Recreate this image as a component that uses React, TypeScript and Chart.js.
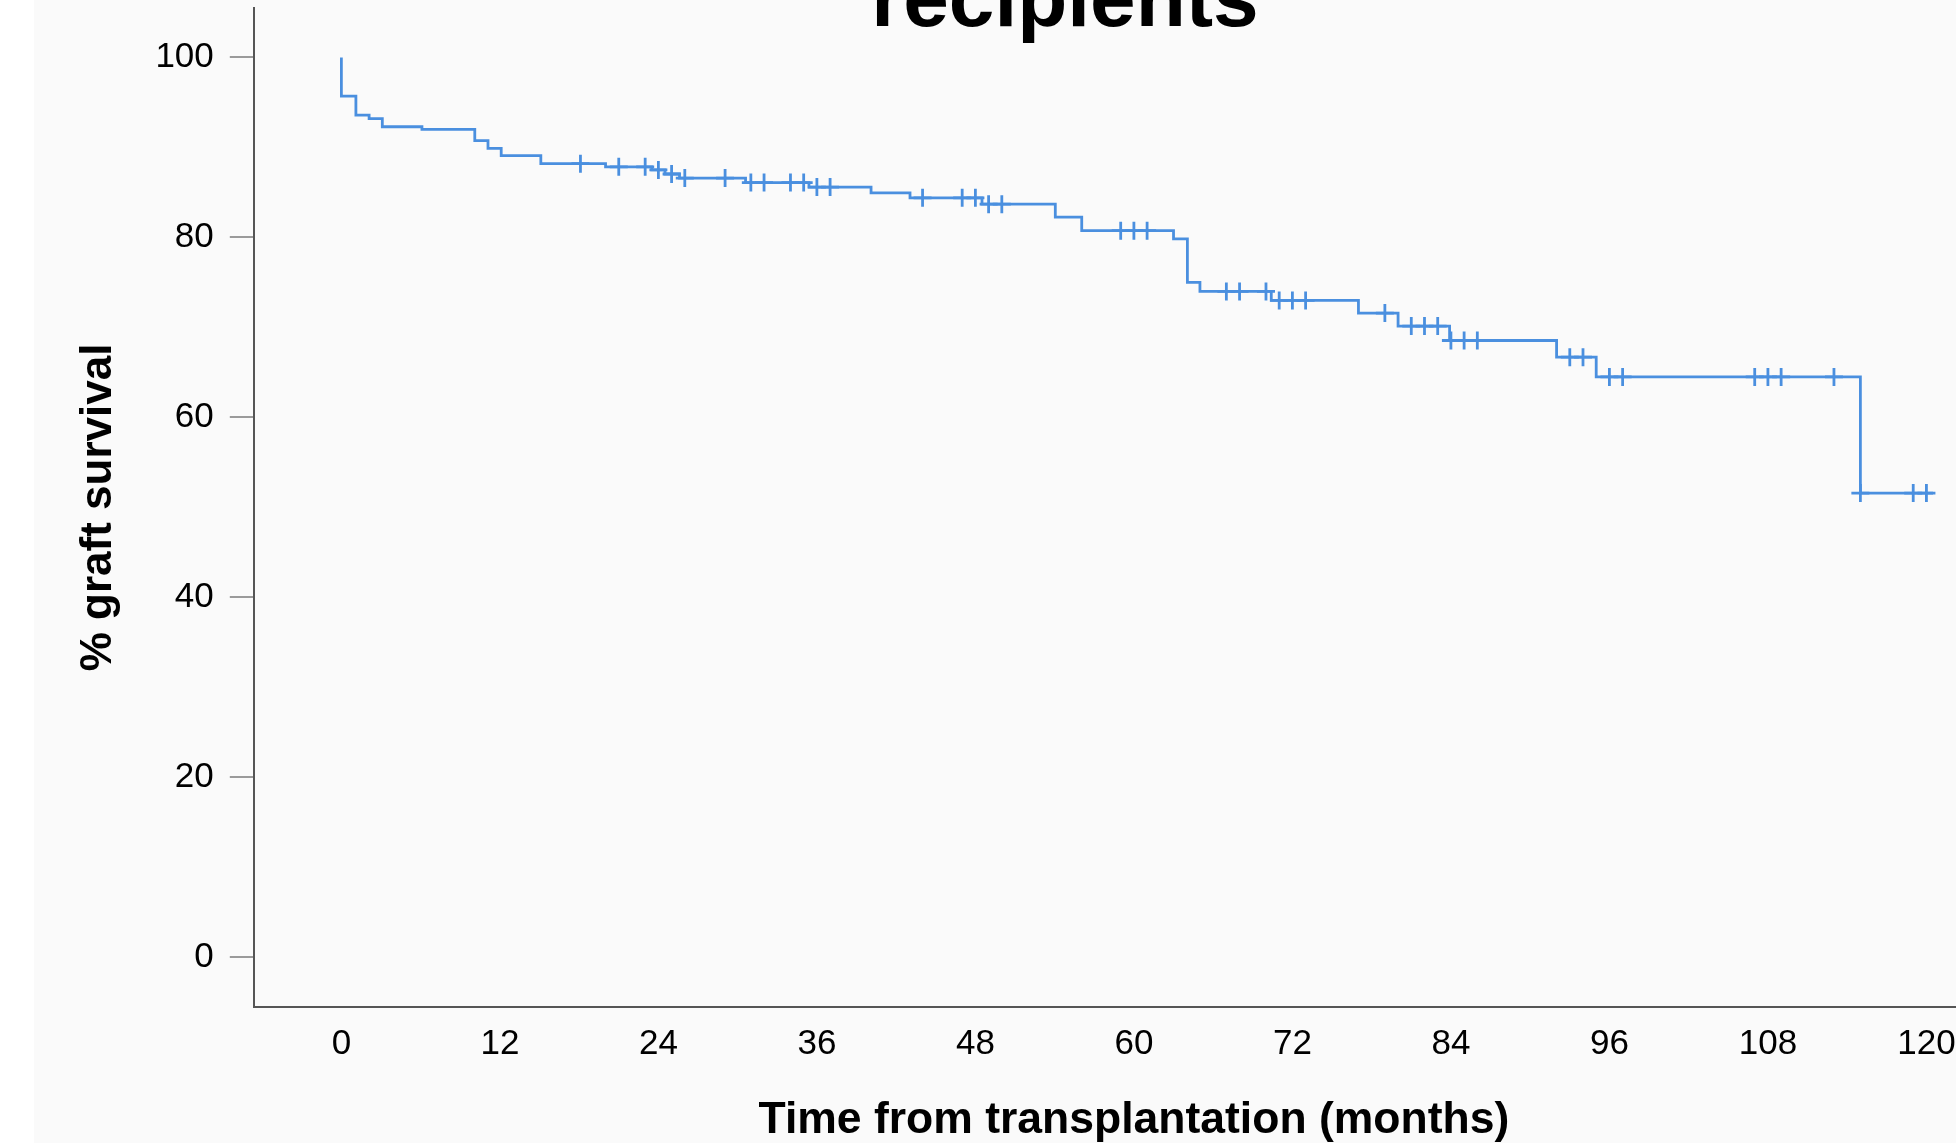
import React, { useEffect, useRef } from "react";
import { Chart, registerables } from "chart.js";

Chart.register(...registerables);

// Kaplan-Meier step points (time in months, % graft survival)
const eventTimes = [0, 0, 1.1, 2.1, 3.1, 6.1, 10.1, 11.1, 12.1, 15.1, 20.0, 23.5, 24.5, 25.6, 30.6, 35.4, 40.1, 43.05, 48.5, 54.05, 56.05, 63.0, 64.05, 65.0, 70.4, 77.0, 80.0, 83.9, 92.0, 95.0, 115.0, 120.5];
const eventSurvival = [100, 95.7, 93.6, 93.2, 92.3, 92.0, 90.75, 89.9, 89.1, 88.2, 87.85, 87.5, 87.05, 86.6, 86.1, 85.6, 84.95, 84.4, 83.7, 82.25, 80.75, 79.85, 75.0, 74.0, 73.0, 71.6, 70.15, 68.55, 66.7, 64.5, 51.6, 51.6];

// Censored observations
const censorTimes = [18.1, 21.0, 23.0, 24.0, 25.0, 26.0, 29.05, 31.0, 32.0, 34.0, 35.0, 36.0, 37.0, 44.0, 47.0, 48.0, 49.0, 50.0, 59.0, 60.0, 61.0, 67.0, 68.0, 70.0, 71.0, 72.0, 73.0, 79.0, 81.0, 82.0, 83.0, 84.0, 85.0, 86.0, 93.0, 94.0, 96.0, 97.0, 107.0, 108.0, 109.0, 113.0, 115.0, 119.0, 120.0];
const censorSurvival = [88.2, 87.85, 87.85, 87.5, 87.05, 86.6, 86.6, 86.1, 86.1, 86.1, 86.1, 85.6, 85.6, 84.4, 84.4, 84.4, 83.7, 83.7, 80.75, 80.75, 80.75, 74.0, 74.0, 74.0, 73.0, 73.0, 73.0, 71.6, 70.15, 70.15, 70.15, 68.55, 68.55, 68.55, 66.7, 66.7, 64.5, 64.5, 64.5, 64.5, 64.5, 64.5, 51.6, 51.6, 51.6];

const xTickValues = [0, 12, 24, 36, 48, 60, 72, 84, 96, 108, 120];
const yTickValues = [0, 20, 40, 60, 80, 100];

const titleText = "recipients";
const xTitle = "Time from transplantation (months)";
const yTitle = "% graft survival";

const BLUE = "#4a8fdf";
const FONT = '"Liberation Sans", Arial, Helvetica, sans-serif';

export default function App() {
  const ref = useRef<HTMLCanvasElement>(null);

  useEffect(() => {
    const canvas = ref.current;
    if (!canvas) return;

    const bgPlugin = {
      id: "bgPlugin",
      beforeDraw(chart: any) {
        const ctx = chart.ctx;
        ctx.save();
        ctx.fillStyle = "#ffffff";
        ctx.fillRect(0, 0, chart.width, chart.height);
        ctx.fillStyle = "#fafafa";
        ctx.fillRect(34, 0, chart.width - 34, chart.height);
        ctx.restore();
      },
    };

    const chart = new Chart(canvas, {
      type: "line",
      data: {
        datasets: [
          {
            label: "Survival",
            data: eventTimes.map((t, i) => ({ x: t, y: eventSurvival[i] })),
            stepped: "before",
            borderColor: BLUE,
            borderWidth: 2.8,
            pointRadius: 0,
            fill: false,
            yAxisID: "y",
          },
          {
            label: "Censored",
            type: "scatter",
            data: censorTimes.map((t, i) => ({ x: t, y: censorSurvival[i] })),
            pointStyle: "cross",
            pointRadius: 9,
            borderColor: BLUE,
            backgroundColor: BLUE,
            borderWidth: 2.8,
            showLine: false,
            yAxisID: "y",
          } as any,
        ],
      },
      options: {
        responsive: false,
        animation: false,
        layout: { padding: 0 },
        plugins: {
          legend: { display: false },
          tooltip: { enabled: false },
          title: {
            display: true,
            text: titleText,
            color: "#000",
            font: { family: FONT, size: 82, weight: "bold", lineHeight: 1.2 },
            padding: { top: 4, bottom: -44 },
          },
        },
        scales: {
          x: {
            type: "linear",
            min: -6.63,
            max: 126.63,
            afterBuildTicks: (s: any) => {
              s.ticks = xTickValues.map((v) => ({ value: v }));
            },
            afterFit: (s: any) => {
              s.height = 136.5;
            },
            ticks: {
              color: "#000",
              font: { family: FONT, size: 35 },
              padding: 9,
              autoSkip: false,
              maxRotation: 0,
              minRotation: 0,
            },
            grid: { display: false },
            border: { display: true, color: "#555", width: 2 },
            title: {
              display: true,
              text: xTitle,
              color: "#000",
              font: { family: FONT, size: 44.5, weight: "bold", lineHeight: 1.2 },
              padding: { top: 0, bottom: -4 },
            },
          },
          y: {
            type: "linear",
            position: "left",
            min: -5.45,
            max: 105.45,
            afterBuildTicks: (s: any) => {
              s.ticks = yTickValues.map((v) => ({ value: v }));
            },
            afterFit: (s: any) => {
              s.width = 253.8;
            },
            ticks: {
              color: "#000",
              font: { family: FONT, size: 35 },
              padding: 16,
            },
            grid: {
              drawOnChartArea: false,
              drawTicks: true,
              tickLength: 24,
              color: "#9a9a9a",
              lineWidth: 2,
            },
            border: { display: true, color: "#555", width: 2 },
            title: {
              display: true,
              text: yTitle,
              color: "#000",
              font: { family: FONT, size: 44, weight: "bold", lineHeight: 1.2 },
              padding: { top: 72.6, bottom: 0 },
            },
          },
          yRight: {
            type: "linear",
            position: "right",
            display: true,
            grid: { display: false },
            ticks: { display: false },
            border: { display: false },
            afterFit: (s: any) => {
              s.width = 116;
            },
          },
        },
      } as any,
      plugins: [bgPlugin],
    });

    return () => {
      chart.destroy();
    };
  }, []);

  return (
    <div
      style={{
        position: "fixed",
        left: 0,
        top: 0,
        width: 1956,
        height: 1143,
        overflow: "hidden",
        background: "#fff",
      }}
    >
      <canvas
        ref={ref}
        width={2130}
        height={1193}
        style={{ position: "absolute", left: 0, top: -50, width: 2130, height: 1193 }}
      />
    </div>
  );
}
